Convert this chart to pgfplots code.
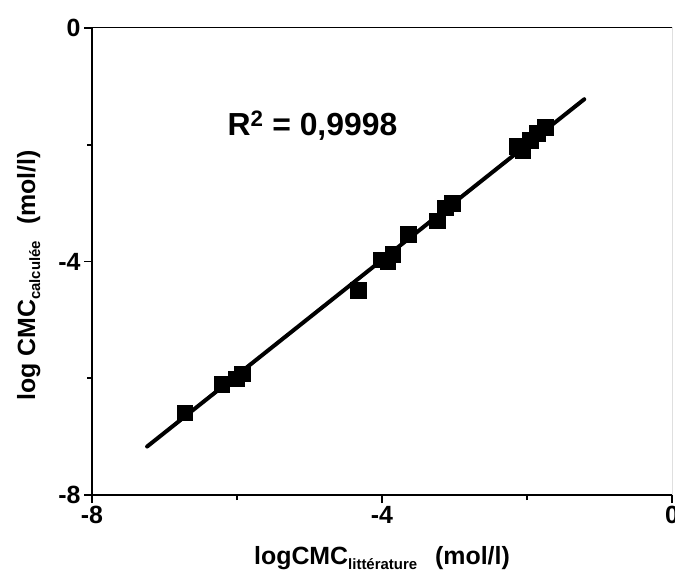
\documentclass[border=0pt]{standalone}
\usepackage{fontspec}
\setmainfont{Liberation Sans}
\usepackage{pgfplots}
\pgfplotsset{compat=1.18}
\begin{document}
\begin{tikzpicture}
\begin{axis}[
  scale only axis, width=580bp, height=467bp,
  xmin=-8, xmax=0, ymin=-8, ymax=0,
  axis x line*=bottom, axis y line*=left,
  xtick={-8,-4,0}, ytick={-8,-4,0},
  minor xtick={-6,-2}, minor ytick={-6,-2},
  tick align=outside,
  major tick length=8bp, minor tick length=5bp,
  axis line style={line width=1.8bp, -},
  every tick/.style={black, line width=1.8bp},
  /pgf/number format/assume math mode=true,
  tick label style={font=\bfseries\fontsize{25}{25}\selectfont},
  xlabel={\bfseries\fontsize{25}{25}\selectfont logCMC\raisebox{-5bp}{\fontsize{15}{15}\selectfont littérature}\hspace{18bp}(mol/l)},
  ylabel={\bfseries\fontsize{25}{25}\selectfont log CMC\raisebox{-5bp}{\fontsize{15}{15}\selectfont calculée}\hspace{16bp}(mol/l)},
  xlabel style={yshift=-15bp},
  ylabel style={yshift=11bp, xshift=-14bp},
]
\addplot[no marks, line width=4bp, line cap=round] coordinates {(-7.24,-7.17) (-1.21,-1.22)};
\addplot[only marks, mark=square*, mark size=7.8bp, black] coordinates {
(-6.72,-6.59) (-6.21,-6.10) (-6.01,-6.01) (-5.93,-5.92)
(-4.33,-4.49) (-4.01,-3.97) (-3.92,-4.00) (-3.85,-3.87)
(-3.64,-3.53) (-3.24,-3.30) (-3.13,-3.08) (-3.03,-3.00)
(-2.14,-2.02) (-2.06,-2.09) (-1.96,-1.92) (-1.86,-1.80) (-1.75,-1.70)
};
\draw[line width=1bp] (rel axis cs:0,1) -- (rel axis cs:1,1) -- (rel axis cs:1,0);
\node[font=\bfseries\fontsize{32}{32}\selectfont] at (axis cs:-4.96,-1.68) {R\textsuperscript{2} = 0,9998};
\coordinate (sw) at (rel axis cs:0,0);
\coordinate (ne) at (rel axis cs:1,1);
\end{axis}
\pgfresetboundingbox
\useasboundingbox ([xshift=-92bp,yshift=-86bp]sw) rectangle ([xshift=3bp,yshift=28bp]ne);
\end{tikzpicture}
\end{document}
